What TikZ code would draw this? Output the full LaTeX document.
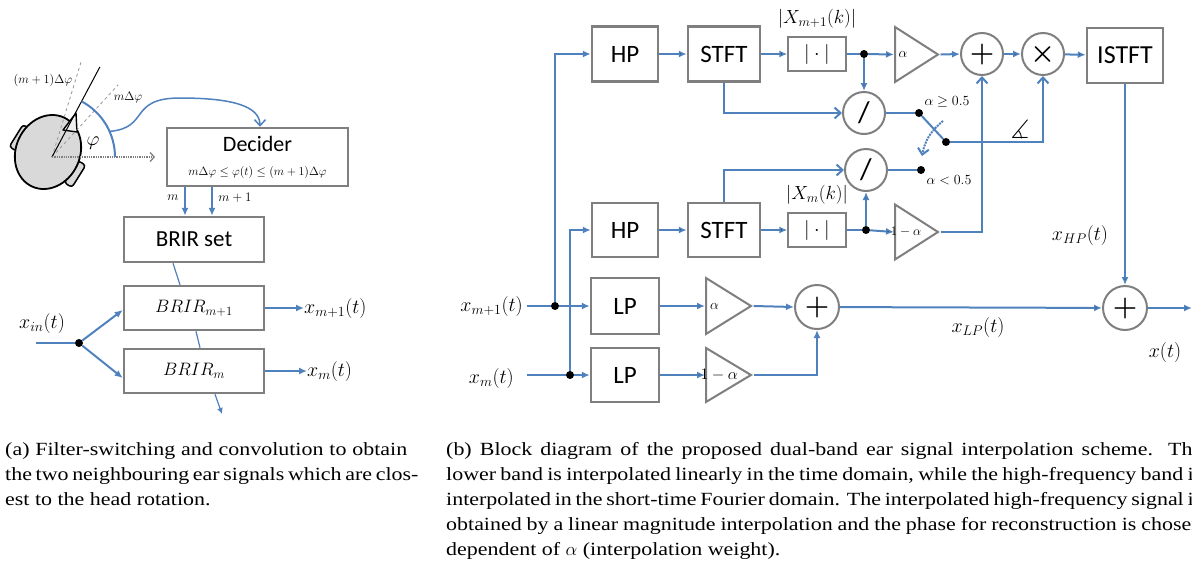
\RequirePackage{fix-cm}
\documentclass[tikz,border=0pt]{standalone}
\usepackage{amssymb}
\usepackage{fontspec}
\setmainfont{Liberation Serif}
\newfontfamily\blockfont{Carlito}
\newfontfamily\capfont[FakeStretch=1.18]{Liberation Serif}
\usetikzlibrary{arrows.meta,shapes.geometric,calc}

\definecolor{sigblue}{HTML}{4F81BD}
\definecolor{boxgray}{HTML}{7F7F7F}
\newcommand{\fsz}[1]{\fontsize{#1}{#1}\selectfont}

\tikzset{
    block/.style={
    rectangle,draw=boxgray,line width=2.5pt,inner sep=0pt,font=\blockfont\fsz{25}
    },
    absbox/.style={
    rectangle,draw=boxgray,line width=1.3pt,inner sep=0pt,minimum width=58pt,minimum height=34pt,font=\fsz{20}
    },
    opcircle/.style={
    circle,draw=boxgray,line width=2pt,inner sep=0pt,minimum size=42pt,font=\fsz{28}\boldmath
    },
    gain/.style={
    isosceles triangle,isosceles triangle stretches,draw=boxgray,line width=2pt,inner sep=0pt,
    minimum height=43pt,minimum width=55pt,anchor=west
    },
    gainlbl/.style={
    inner sep=0pt,font=\fsz{14}
    },
    junct/.style={
    circle,fill=black,inner sep=0pt,minimum size=8pt
    },
    sig/.style={draw=sigblue,line width=2pt},
    thinsig/.style={draw=sigblue,line width=1.2pt},
    tip/.style={-{Latex[length=8pt,width=7pt]}},
    smalltip/.style={-{Latex[length=6pt,width=6pt]}},
    vtip/.style={-{Straight Barb[length=6pt,width=11pt]}},
    lbl/.style={inner sep=0pt,font=\fsz{20}},
    smalllbl/.style={inner sep=0pt,font=\fsz{13}},
    caption/.style={inner sep=0pt,anchor=base west,font=\capfont\fsz{18.6}},
}

\begin{document}
\begin{tikzpicture}[x=1pt,y=1pt]
  \useasboundingbox (0,0) rectangle (1192,-563);
  \clip (0,0) rectangle (1192,-563);

  %%% (a) head tracking and BRIR switching
  \coordinate (O) at (52,-157);
  % ears, head and nose
  \draw[fill=black!15,line width=1.5pt,rounded corners=3pt,rotate around={-32:(20,-138)}]
    (15.5,-151) rectangle (24.5,-125);
  \draw[fill=black!15,line width=1.5pt,rounded corners=3pt,rotate around={-32:(75,-174)}]
    (70.5,-187) rectangle (79.5,-161);
  \draw[fill=black!15,line width=1.8pt,rotate around={-25:(48,-152)}] (48,-152) ellipse [x radius=32,y radius=38];
  \draw[fill=black!6,line width=1.4pt,line join=round] (63,-130) -- (76,-113) -- (77,-132) -- cycle;
  % look direction and grid angles
  \draw[boxgray!80,dashed,line width=0.8pt] (O) -- ++(73:101);
  \draw[boxgray!80,dashed,line width=0.8pt] (O) -- ++(47.5:98);
  \draw[line width=1pt] (O) -- ++(62:102);
  \draw[boxgray,densely dotted,line width=1.3pt,-{Straight Barb[length=4pt,width=9pt]}] (O) -- ++(103,0);
  \draw[sig] ($(O)+(63,0)$) arc[start angle=0,end angle=62,radius=63];
  \coordinate (phiarc) at ($(O)+(24:63)$);
  \node[lbl] (phi) at (93,-143) {$\varphi$};
  \node[inner sep=0pt,font=\fsz{12.3}] (angB) at (43,-80) {$(m+1)\Delta\varphi$};
  \node[inner sep=0pt,font=\fsz{12.3}] (angA) at (128,-97) {$m\Delta\varphi$};

  \node[block,minimum width=181pt,minimum height=58pt,align=center] (decider) at (257.5,-157)
    {{\fsz{22}Decider}\\[-1pt]{\fsz{12}$m\Delta\varphi \le \varphi(t) \le (m+1)\Delta\varphi$}};
  \draw[thinsig,line width=1.5pt,vtip] (phiarc) .. controls (150,-128) and (128,-98) .. (180,-98)
    .. controls (232,-98) and (260,-106) .. (decider.north -| 260,0);

  \node[block,minimum width=140pt,minimum height=45pt,font=\blockfont\fsz{23}] (brirset) at (194,-239.5) {BRIR set};
  \node[block,minimum width=140pt,minimum height=44pt,font=\fsz{18}] (brira) at (194,-308) {$BRIR_{m+1}$};
  \node[block,minimum width=140pt,minimum height=44pt,font=\fsz{18}] (brirb) at (194,-371) {$BRIR_m$};

  \draw[sig,tip] (185,0 |- decider.south) -- (185,0 |- brirset.north);
  \draw[sig,tip] (212,0 |- decider.south) -- (212,0 |- brirset.north);
  \node[smalllbl] (selA) at (173,-198) {$m$};
  \node[smalllbl] (selB) at (235,-198) {$m+1$};

  \draw[thinsig] (173,0 |- brirset.south) -- (180,0 |- brira.north);
  \draw[thinsig] (196,0 |- brira.south) -- (200,0 |- brirb.north);
  \coordinate (brirout) at (222,-414);
  \draw[thinsig,smalltip] (215,0 |- brirb.south) -- (brirout);

  \coordinate (inStart) at (36,-343);
  \node[junct] (jin) at (79,-343) {};
  \node[lbl] (xin) at (42,-323) {$x_{in}(t)$};
  \draw[sig] (inStart) -- (jin);
  \draw[sig,tip] (jin) -- ($(brira.west)+(0,-2)$);
  \draw[sig,tip] (jin) -- ($(brirb.west)+(0,-7)$);

  \node[lbl,anchor=west] (outA) at (304,-308) {$x_{m+1}(t)$};
  \node[lbl,anchor=west] (outB) at (307,-371) {$x_m(t)$};
  \draw[sig,tip] (brira.east) -- (outA.west);
  \draw[sig,tip] (brirb.east) -- (outB.west);

  %%% (b) dual-band interpolation
  % high band
  \node[block,minimum width=66pt,minimum height=55pt] (hpA) at (625,-54) {HP};
  \node[block,minimum width=72pt,minimum height=55pt] (stftA) at (724,-54) {STFT};
  \node[absbox] (absA) at (817,-54) {$|\cdot|$};
  \node[lbl,font=\fsz{19}] (magA) at (817,-19) {$|X_{m+1}(k)|$};
  \node[junct] (jA) at (864,-54) {};
  \node[gain,label={[gainlbl,xshift=-7pt]center:$\alpha$}] (gainA) at (894,-54.5) {};
  \node[opcircle] (sumA) at (982,-54) {$+$};
  \node[opcircle] (mulA) at (1043,-54) {$\times$};
  \node[block,minimum width=76pt,minimum height=55pt,font=\blockfont\fsz{26}] (istft) at (1125,-55.5) {ISTFT};

  \node[opcircle,font=\blockfont\fsz{30}] (divA) at (864,-113) {/};
  \node[opcircle,font=\blockfont\fsz{30}] (divB) at (866,-170) {/};
  \node[junct] (swA) at (919,-113) {};
  \node[junct] (swC) at (946,-142) {};
  \node[junct] (swB) at (921,-170) {};
  \node[inner sep=0pt,font=\fsz{14}] (geq) at (947,-102) {$\alpha \ge 0.5$};
  \node[inner sep=0pt,font=\fsz{14}] (less) at (949,-180) {$\alpha < 0.5$};
  \node[inner sep=0pt,font=\fsz{26}] (phase) at (1020,-129) {$\measuredangle$};

  \node[block,minimum width=66pt,minimum height=54pt] (hpB) at (625,-230) {HP};
  \node[block,minimum width=72pt,minimum height=54pt] (stftB) at (724,-230) {STFT};
  \node[absbox] (absB) at (817,-230) {$|\cdot|$};
  \node[lbl,font=\fsz{19}] (magB) at (817,-195) {$|X_m(k)|$};
  \node[junct] (jB) at (866,-230) {};
  \node[gain,label={[gainlbl,font=\fsz{13},xshift=-4pt]center:$1-\alpha$}] (gainB) at (894,-232) {};

  % low band
  \node[block,minimum width=68pt,minimum height=56pt] (lpA) at (625,-306) {LP};
  \node[block,minimum width=68pt,minimum height=54pt] (lpB) at (625,-375) {LP};
  \node[gain,minimum height=45pt,minimum width=56pt,label={[gainlbl,xshift=-7pt]center:$\alpha$}] (gainC) at (705,-306) {};
  \node[gain,minimum height=45pt,minimum width=54pt,label={[gainlbl,font=\fsz{16},xshift=-2pt]center:$1-\alpha$}] (gainD) at (705,-375) {};
  \node[opcircle,minimum size=44pt] (sumC) at (817,-307) {$+$};
  \node[opcircle,minimum size=44pt] (sumOut) at (1125,-308) {$+$};
  \coordinate (outEnd) at (1192,-308);

  % signal names
  \node[lbl,anchor=east] (xA) at (523,-306) {$x_{m+1}(t)$};
  \node[lbl,anchor=east] (xB) at (514,-378) {$x_m(t)$};
  \node[junct] (jC) at (555,-306) {};
  \node[junct] (jD) at (570,-375) {};
  \node[lbl] (xhp) at (1080,-235) {$x_{HP}(t)$};
  \node[lbl] (xlp) at (978,-327) {$x_{LP}(t)$};
  \node[lbl] (xout) at (1165,-352) {$x(t)$};

  % connections
  \draw[sig] ($(xA.east |- jC)+(4,0)$) -- (jC);
  \draw[sig] ($(xB.east |- jD)+(13,0)$) -- (jD);
  \draw[sig,tip] (jC) -- (lpA.west);
  \draw[sig,tip] (jD) -- (lpB.west);
  \draw[sig,tip] (jC) |- (hpA.west);
  \draw[sig,tip] (jD) |- (hpB.west);

  \path[sig,tip]
    (hpA) edge (stftA)
    (stftA) edge (absA)
    (hpB) edge (stftB)
    (stftB) edge (absB)
    (jA) edge (gainA.west)
    (jB) edge (gainB.west)
    (sumA) edge (mulA)
    (mulA) edge (istft)
    (jA) edge (divA)
    (jB) edge (divB)
    (istft) edge (sumOut)
    (sumOut) edge (outEnd)
    (lpA) edge (gainC.west)
    (lpB) edge (gainD.west)
    (sumC) edge (sumOut);
  \draw[sig,tip] (gainA.apex) -- (sumA.west);
  \draw[sig,tip] (gainC.apex) -- (sumC.west);
  \draw[sig] (absA) -- (jA);
  \draw[sig] (absB) -- (jB);
  \draw[sig,tip] (gainD.apex) -| (sumC);

  \draw[sig,vtip] (stftA) |- (divA);
  \draw[sig,vtip] (stftB) |- (divB);
  \draw[sig] (divA) -- (swA);
  \draw[sig] (divB) -- (swB);
  \draw[sig] (swA) -- (swC);
  \draw[sig,vtip] (swC) -| (mulA);
  \draw[sig,vtip] (gainB.apex) -| (sumA);
  \draw[sig,densely dotted,vtip] ($(swA)+(24,-8)$) to[bend right=20] ($(swA)+(3,-43)$);

  %%% captions
  \node[caption] (capa1) at (5,-455) {\makebox[402pt][s]{(a) Filter-switching and convolution to obtain}};
  \node[caption] (capa2) at (5,-480) {\makebox[402pt][s]{the two neighbouring ear signals which are clos-}};
  \node[caption] (capa3) at (5,-505) {est to the head rotation.};
  \node[caption] (capb1) at (446,-455) {\makebox[756pt][s]{(b) Block diagram of the proposed dual-band ear signal interpolation scheme. The}};
  \node[caption] (capb2) at (446,-480) {\makebox[756pt][s]{lower band is interpolated linearly in the time domain, while the high-frequency band is}};
  \node[caption] (capb3) at (446,-505) {\makebox[756pt][s]{interpolated in the short-time Fourier domain. The interpolated high-frequency signal is}};
  \node[caption] (capb4) at (446,-530) {\makebox[756pt][s]{obtained by a linear magnitude interpolation and the phase for reconstruction is chosen}};
  \node[caption] (capb5) at (446,-555) {dependent of $\alpha$ (interpolation weight).};
\end{tikzpicture}
\end{document}
